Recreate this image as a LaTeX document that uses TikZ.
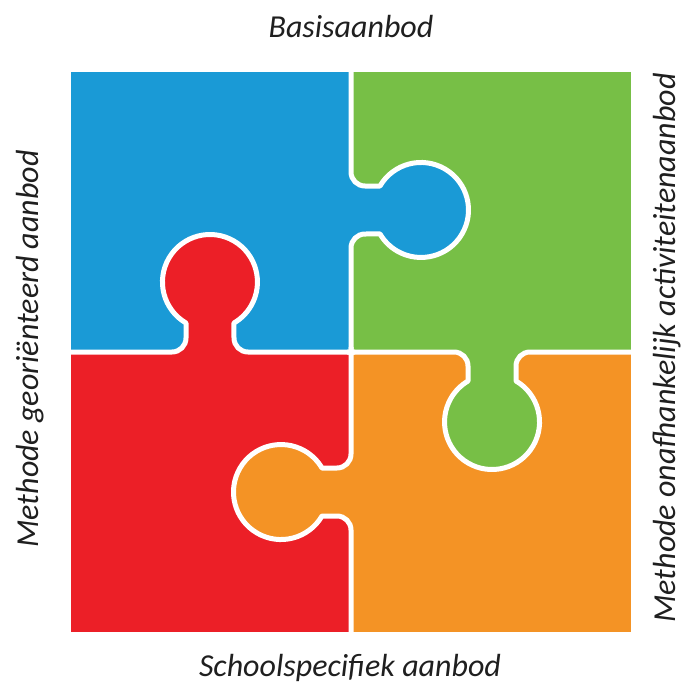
\documentclass[tikz,border=0pt]{standalone}
\usepackage{fontspec}
\setmainfont{Carlito}
\definecolor{pzblue}{HTML}{1A9AD6}
\definecolor{pzgreen}{HTML}{77BF46}
\definecolor{pzred}{HTML}{EC1F27}
\definecolor{pzorange}{HTML}{F49325}
\tikzset{%
  seam/.style     = {draw=white, line width=5pt, line join=round},%
  sidetext/.style = {font=\fontsize{32}{38}\selectfont\itshape,%
                     text=black!88, inner sep=0pt, anchor=base},%
  knob/.pic       = {%
    \fill[#1] (-38,0) arc[start angle=-90,end angle=0,radius=14] -- (-24,29)
      arc[start angle=239.7,end angle=-59.7,radius=47.5] -- (24,14)
      arc[start angle=180,end angle=270,radius=14] -- cycle;
    \draw[seam] (-145,0) -- (-38,0) arc[start angle=-90,end angle=0,radius=14] -- (-24,29)
      arc[start angle=239.7,end angle=-59.7,radius=47.5] -- (24,14)
      arc[start angle=180,end angle=270,radius=14] -- (145,0);
  }%
}

\begin{document}
\begin{tikzpicture}[x=1pt,y=1pt]
	\useasboundingbox (0,0) rectangle (685,-686);
	\fill[pzblue]   (71,-72)   rectangle (351,-352);
	\fill[pzgreen]  (351,-72)  rectangle (631,-352);
	\fill[pzred]    (71,-352)  rectangle (351,-632);
	\fill[pzorange] (351,-352) rectangle (631,-632);
	\pic[rotate=-90] at (351,-210) {knob=pzblue};
	\pic             at (210,-352) {knob=pzred};
	\pic[rotate=180] at (492,-352) {knob=pzgreen};
	\pic[rotate=90]  at (351,-492) {knob=pzorange};
	\node[sidetext] (top)    at (351,-37)  {Basisaanbod};
	\node[sidetext] (bottom) at (350,-676) {Schoolspecifiek aanbod};
	\node[sidetext, rotate=90] (left)  at (38,-349)  {Methode georiënteerd aanbod};
	\node[sidetext, rotate=90] (right) at (675,-348) {Methode onafhankelijk activiteitenaanbod};
\end{tikzpicture}
\end{document}
